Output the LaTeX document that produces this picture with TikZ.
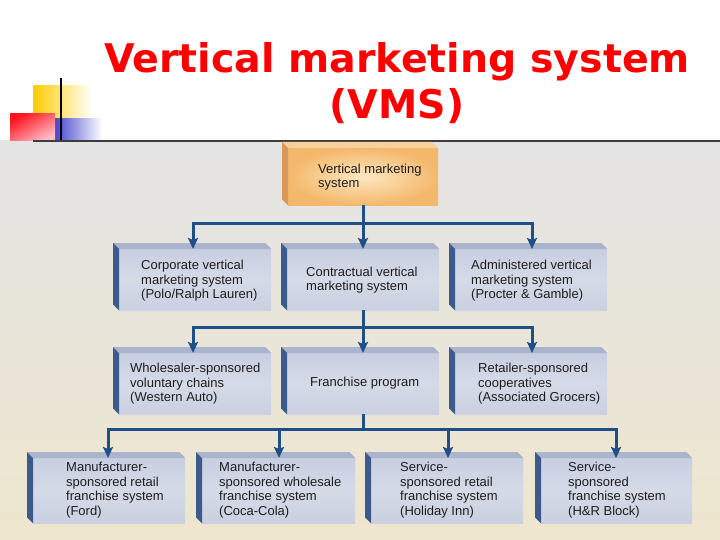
\documentclass[tikz,border=0pt]{standalone}
\usepackage{fontspec}
\setmainfont{Liberation Sans}
\newfontfamily\titlefont{DejaVu Sans}
\usetikzlibrary{arrows.meta,calc}
\definecolor{conn}{HTML}{1F4F88}
\definecolor{titlered}{HTML}{FF0000}
\definecolor{txt}{HTML}{1E1E1E}
\definecolor{bgtop}{HTML}{C8CFE1}
\definecolor{bgmid}{HTML}{D5DAE7}
\definecolor{bgbot}{HTML}{CAD0E0}
\definecolor{bluetopc}{HTML}{AAB4CD}
\definecolor{blueleftc}{HTML}{3C5A8C}
\definecolor{orIn}{HTML}{FDE8C2}
\definecolor{orOut}{HTML}{F4B86C}
\definecolor{ortopc}{HTML}{F7D09C}
\definecolor{orleftc}{HTML}{D9985A}
\definecolor{pagetop}{RGB}{228,228,228}
\definecolor{pagebot}{RGB}{238,230,206}
\definecolor{logoyellow}{RGB}{255,204,0}
\definecolor{logoblue}{RGB}{50,50,200}
\definecolor{logored}{RGB}{255,20,30}
\definecolor{logopink}{RGB}{255,190,200}
\definecolor{rulegrey}{RGB}{60,60,60}
\tikzset{
  bluefront/.style={rectangle,inner sep=0pt,draw=none,top color=bgtop,bottom color=bgbot,middle color=bgmid},
  bluetop/.style={fill=bluetopc},
  blueleft/.style={fill=blueleftc},
  orangefront/.style={rectangle,inner sep=0pt,draw=none,inner color=orIn,outer color=orOut},
  orangetop/.style={fill=ortopc},
  orangeleft/.style={fill=orleftc},
  connline/.style={draw=conn,line width=3pt},
  arrowline/.style={draw=conn,line width=3pt,-{Stealth[length=11pt,width=10pt,inset=2pt]}},
  lbl/.style={anchor=west,align=left,text=txt,font=\fontsize{13}{14.6}\selectfont,inner sep=0pt},
  titlestyle/.style={anchor=base,text=titlered,font=\titlefont\bfseries\fontsize{39.5}{46}\selectfont,inner sep=0pt},
}
\newcommand\tdbox[6]{%
  \node[#6front,minimum width={#4-#2-6},minimum height={#5-#3-6},anchor=north west] (#1) at ({#2+6},{#3+6}) {};
  \fill[#6top] (#1.north west) -- ++(-6,-6) -- ($(#1.north east)+(-6,-6)$) -- (#1.north east) -- cycle;
  \fill[#6left] (#1.north west) -- ++(-6,-6) -- ($(#1.south west)+(-6,-6)$) -- (#1.south west) -- cycle;
}
\begin{document}
\begin{tikzpicture}[x=1pt,y=-1pt]
\useasboundingbox (0,0) rectangle (720,540);
% background
\fill[white] (0,0) rectangle (720,141);
\shade[top color=pagetop,bottom color=pagebot] (0,141) rectangle (720,540);
% logo
\shade[left color=logoyellow,right color=white] (33,86) rectangle (92,120);
\shade[left color=logoblue,right color=white] (50,119) rectangle (102,141);
\shade[top color=logored,bottom color=logopink,shading angle=30] (10,114) rectangle (55,141);
\draw[line width=1.6pt,black] (61,78) -- (61,141);
\draw[line width=1.4pt,rulegrey] (33,141) -- (720,141);
% title
\node[titlestyle] (title1) at (397,73) {Vertical marketing system};
\node[titlestyle] (title2) at (397,119) {(VMS)};
% boxes
\tdbox{top}{282}{142}{438}{205}{orange}
\tdbox{a1}{113}{243}{271}{310}{blue}
\tdbox{a2}{281}{243}{439}{310}{blue}
\tdbox{a3}{449}{243}{607}{310}{blue}
\tdbox{b1}{113}{347}{271}{414}{blue}
\tdbox{b2}{281}{347}{439}{414}{blue}
\tdbox{b3}{449}{347}{607}{414}{blue}
\tdbox{c1}{27}{452}{185}{523}{blue}
\tdbox{c2}{196}{452}{355}{523}{blue}
\tdbox{c3}{365}{452}{523}{523}{blue}
\tdbox{c4}{535}{452}{692}{523}{blue}
% texts
\node[lbl] (ttop) at (318,177) {Vertical marketing\\system};
\node[lbl] (ta1) at (141,281) {Corporate vertical\\marketing system\\(Polo/Ralph Lauren)};
\node[lbl] (ta2) at (306,280) {Contractual vertical\\marketing system};
\node[lbl] (ta3) at (471,281) {Administered vertical\\marketing system\\(Procter \& Gamble)};
\node[lbl] (tb1) at (130,384) {Wholesaler-sponsored\\voluntary chains\\(Western Auto)};
\node[lbl] (tb2) at (310,383) {Franchise program};
\node[lbl] (tb3) at (478,384) {Retailer-sponsored\\cooperatives\\(Associated Grocers)};
\node[lbl] (tc1) at (66,490) {Manufacturer-\\sponsored retail\\franchise system\\(Ford)};
\node[lbl] (tc2) at (219,490) {Manufacturer-\\sponsored wholesale\\franchise system\\(Coca-Cola)};
\node[lbl] (tc3) at (400,490) {Service-\\sponsored retail\\franchise system\\(Holiday Inn)};
\node[lbl] (tc4) at (568,490) {Service-\\sponsored\\franchise system\\(H\&R Block)};
% connectors level 1
\coordinate (j0) at (363,224);
\coordinate (j1) at (193,224);
\coordinate (j3) at (532,224);
\draw[connline] (top.south -| j0) -- (j0);
\draw[connline] ([xshift=-1.5pt]j1) -- ([xshift=1.5pt]j3);
\draw[arrowline] (j1) -- (j1 |- a1.north);
\draw[arrowline] (j0) -- (j0 |- a2.north);
\draw[arrowline] (j3) -- (j3 |- a3.north);
% connectors level 2
\coordinate (k0) at (363,327);
\coordinate (k1) at (193,327);
\coordinate (k3) at (532,327);
\draw[connline] (a2.south -| k0) -- (k0);
\draw[connline] ([xshift=-1.5pt]k1) -- ([xshift=1.5pt]k3);
\draw[arrowline] (k1) -- (k1 |- b1.north);
\draw[arrowline] (k0) -- (k0 |- b2.north);
\draw[arrowline] (k3) -- (k3 |- b3.north);
% connectors level 3
\coordinate (m0) at (363,429);
\coordinate (m1) at (108,429);
\coordinate (m2) at (279,429);
\coordinate (m3) at (448,429);
\coordinate (m4) at (616,429);
\draw[connline] (b2.south -| m0) -- (m0);
\draw[connline] ([xshift=-1.5pt]m1) -- ([xshift=1.5pt]m4);
\draw[arrowline] (m1) -- (m1 |- c1.north);
\draw[arrowline] (m2) -- (m2 |- c2.north);
\draw[arrowline] (m3) -- (m3 |- c3.north);
\draw[arrowline] (m4) -- (m4 |- c4.north);
\end{tikzpicture}
\end{document}
